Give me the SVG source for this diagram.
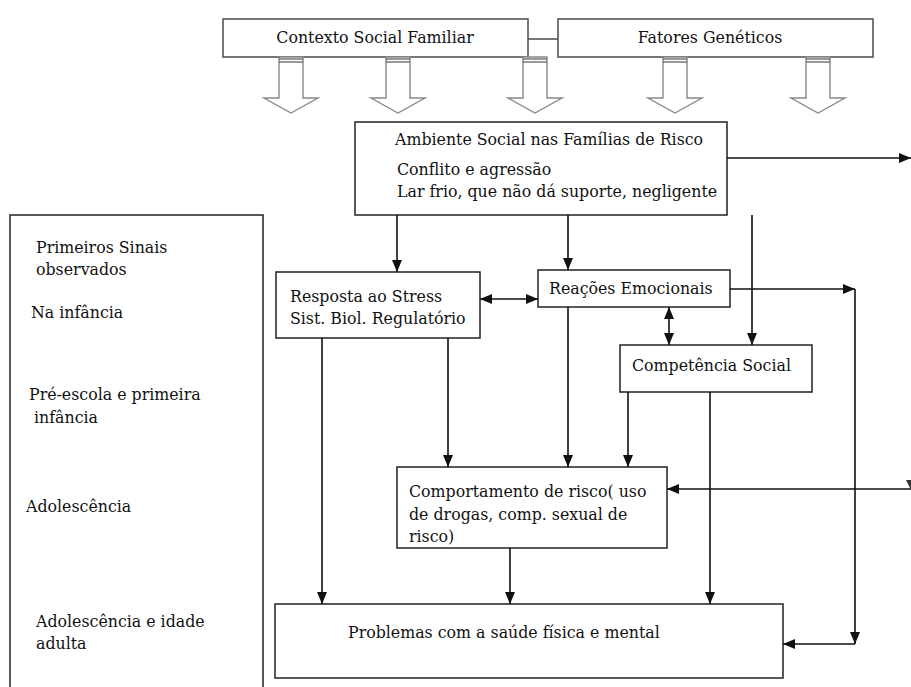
<svg xmlns="http://www.w3.org/2000/svg" width="911" height="687" viewBox="0 0 911 687">
  <style>
    .box { fill: #fff; stroke: #222; stroke-width: 1.5; }
    .topbox { fill: #fff; stroke: #555; stroke-width: 1.6; }
    .lbl { font-family: "DejaVu Serif", "Liberation Serif", serif; font-size: 15.8px; fill: #111; }
    .wire { fill: none; stroke: #111; stroke-width: 1.6; }
    .block { fill: #fff; stroke: #888; stroke-width: 1.4; }
    .stripe { stroke: #555; stroke-width: 1.2; }
  </style>
  <defs>
    <marker id="head" markerUnits="userSpaceOnUse" markerWidth="12" markerHeight="10" refX="12" refY="5" orient="auto-start-reverse">
      <path d="M0,0 L12,5 L0,10 z" fill="#111"/>
    </marker>
    <g id="blockArrow">
      <polygon class="block" points="-12,0 12,0 12,41 27,41 0,56 -27,41 -12,41"/>
      <line class="stripe" x1="-12" y1="2" x2="12" y2="2"/>
      <line class="stripe" x1="-12" y1="5" x2="12" y2="5"/>
    </g>
  </defs>

  <rect width="911" height="687" fill="#fff"/>

  <!-- top sources -->
  <line x1="528" y1="39" x2="558" y2="39" stroke="#777" stroke-width="2"/>
  <g id="contexto">
    <rect class="topbox" x="223" y="19" width="305" height="38"/>
    <text class="lbl" x="375" y="43" text-anchor="middle">Contexto Social Familiar</text>
  </g>
  <g id="fatores">
    <rect class="topbox" x="558" y="19" width="315" height="38"/>
    <text class="lbl" x="710" y="43" text-anchor="middle">Fatores Genéticos</text>
  </g>

  <!-- hollow block arrows feeding the family environment -->
  <g id="block-arrows">
    <use href="#blockArrow" x="291" y="57"/>
    <use href="#blockArrow" x="398" y="57"/>
    <use href="#blockArrow" x="535" y="57"/>
    <use href="#blockArrow" x="675" y="57"/>
    <use href="#blockArrow" x="818" y="57"/>
  </g>

  <g id="ambiente">
    <rect class="box" x="355" y="122" width="372" height="93"/>
    <text class="lbl" x="395" y="145">Ambiente Social nas Famílias de Risco</text>
    <text class="lbl" x="397" y="175">Conflito e agressão</text>
    <text class="lbl" x="397" y="197">Lar frio, que não dá suporte, negligente</text>
  </g>

  <!-- developmental stages column -->
  <g id="etapas">
    <rect class="box" x="10" y="215" width="253" height="490"/>
    <text class="lbl" x="36" y="253">Primeiros Sinais</text>
    <text class="lbl" x="36" y="275">observados</text>
    <text class="lbl" x="31" y="318">Na infância</text>
    <text class="lbl" x="29" y="400">Pré-escola e primeira</text>
    <text class="lbl" x="34" y="423">infância</text>
    <text class="lbl" x="26" y="512">Adolescência</text>
    <text class="lbl" x="36" y="627">Adolescência e idade</text>
    <text class="lbl" x="36" y="649">adulta</text>
  </g>

  <g id="resposta">
    <rect class="box" x="276" y="272" width="204" height="66"/>
    <text class="lbl" x="290" y="302">Resposta ao Stress</text>
    <text class="lbl" x="290" y="324">Sist. Biol. Regulatório</text>
  </g>

  <g id="reacoes">
    <rect class="box" x="538" y="270" width="192" height="37"/>
    <text class="lbl" x="549" y="294">Reações Emocionais</text>
  </g>

  <g id="competencia">
    <rect class="box" x="620" y="345" width="192" height="47"/>
    <text class="lbl" x="632" y="371">Competência Social</text>
  </g>

  <g id="comportamento">
    <rect class="box" x="397" y="467" width="270" height="81"/>
    <text class="lbl" x="409" y="497">Comportamento de risco( uso</text>
    <text class="lbl" x="409" y="520">de drogas, comp. sexual de</text>
    <text class="lbl" x="409" y="542">risco)</text>
  </g>

  <g id="problemas">
    <rect class="box" x="275" y="604" width="508" height="74"/>
    <text class="lbl" x="348" y="638">Problemas com a saúde física e mental</text>
  </g>

  <!-- connectors -->
  <g id="connectors">
    <line class="wire" x1="727" y1="158" x2="911" y2="158" marker-end="url(#head)"/>
    <line class="wire" x1="397" y1="215" x2="397" y2="272" marker-end="url(#head)"/>
    <line class="wire" x1="568" y1="215" x2="568" y2="270" marker-end="url(#head)"/>
    <line class="wire" x1="752" y1="215" x2="752" y2="345" marker-end="url(#head)"/>
    <line class="wire" x1="480" y1="299" x2="538" y2="299" marker-start="url(#head)" marker-end="url(#head)"/>
    <line class="wire" x1="669" y1="307" x2="669" y2="345" marker-start="url(#head)" marker-end="url(#head)"/>
    <line class="wire" x1="730" y1="289" x2="855" y2="289" marker-end="url(#head)"/>
    <line class="wire" x1="855" y1="289" x2="855" y2="644" marker-end="url(#head)"/>
    <line class="wire" x1="855" y1="644" x2="783" y2="644" marker-end="url(#head)"/>
    <line class="wire" x1="322" y1="338" x2="322" y2="604" marker-end="url(#head)"/>
    <line class="wire" x1="448" y1="338" x2="448" y2="467" marker-end="url(#head)"/>
    <line class="wire" x1="568" y1="307" x2="568" y2="467" marker-end="url(#head)"/>
    <line class="wire" x1="628" y1="392" x2="628" y2="467" marker-end="url(#head)"/>
    <line class="wire" x1="710" y1="392" x2="710" y2="604" marker-end="url(#head)"/>
    <line class="wire" x1="510" y1="548" x2="510" y2="604" marker-end="url(#head)"/>
    <line class="wire" x1="911" y1="489" x2="667" y2="489" marker-end="url(#head)"/>
    <polygon points="906,480 911,480 911,490" fill="#333"/>
  </g>
</svg>
